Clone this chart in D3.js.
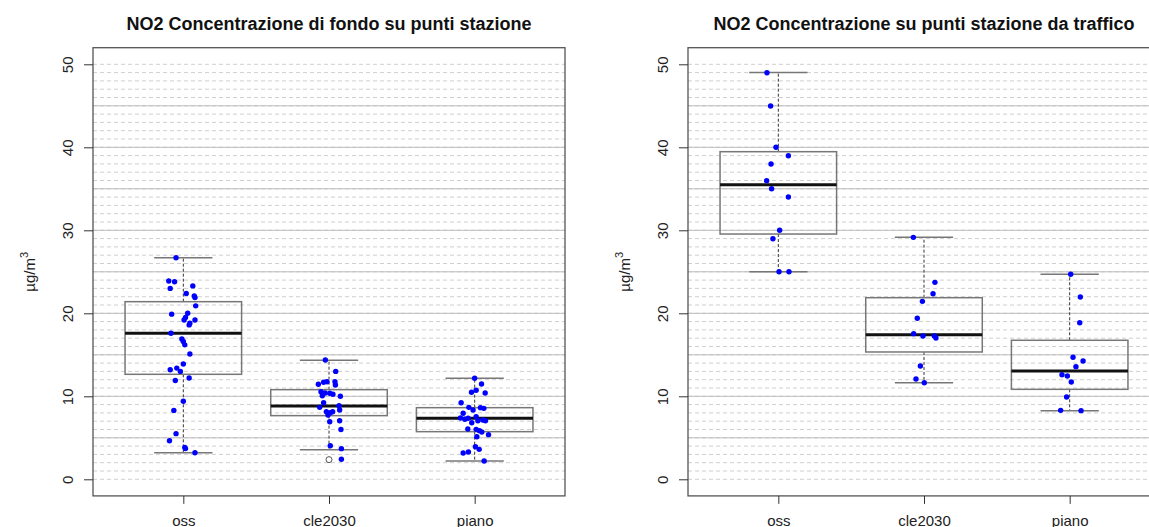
<!DOCTYPE html>
<html>
<head>
<meta charset="utf-8">
<script src="https://cdn.jsdelivr.net/npm/d3@7"></script>
<style>
  body { margin: 0; background: #fff; }
  svg { font-family: "Liberation Sans", Arial, sans-serif; }
</style>
</head>
<body>
<script>
// categories and tick labels
var categories = ['oss', 'cle2030', 'piano'];
var yTicks = [0, 10, 20, 30, 40, 50];
var titles = ['NO2 Concentrazione di fondo su punti stazione',
              'NO2 Concentrazione su punti stazione da traffico'];

// fondo (background stations): values and horizontal jitter (category units)
var fondoOss = [26.7, 23.9, 23.8, 23.3, 23.0, 22.4, 22.1, 21.9, 20.9, 19.9, 20.0, 19.5, 19.2, 19.2, 18.8, 18.6, 17.6,
  16.9, 16.6, 16.2, 15.1, 13.9, 13.2, 13.4, 13.0, 12.2, 11.9, 9.4, 8.3, 5.5, 4.65, 3.85, 3.7, 3.2];
var fondoOssJit = [-0.05, -0.10, -0.06, 0.065, -0.09, 0.02, 0.075, 0.08, 0.085, -0.08, 0.03, 0.015, 0.005, 0.08, 0.045, 0.04, -0.085,
  -0.01, 0, 0.01, 0.045, 0, -0.09, -0.045, -0.02, 0.04, -0.055, 0, -0.065, -0.05, -0.095, 0.01, 0.015, 0.08];
var fondoCle = [14.37, 13.0, 11.76, 11.7, 11.45, 11.76, 11.36, 10.56, 10.4, 10.36, 10.24, 10.0, 10.07, 9.23, 8.67, 8.87,
  8.35, 8.15, 8.03, 8.15, 7.75, 6.94, 7.06, 6.0, 4.05, 3.69, 2.41];
var fondoCleJit = [-0.025, 0.046, -0.014, -0.037, -0.073, 0.041, 0.044, -0.055, -0.027, 0.005, 0.027, 0.078, -0.046, -0.037, -0.064, 0.069,
  0.073, -0.018, 0.009, 0.025, -0.007, 0.005, 0.073, 0.082, 0.009, 0.085, 0.085];
var fondoPiano = [12.17, 11.48, 10.72, 10.48, 10.4, 9.23, 7.95, 8.67, 8.35, 8.63, 8.55, 7.35, 7.39, 7.23, 7.55, 7.06, 7.15,
  7.06, 6.82, 6.06, 6.02, 5.86, 5.7, 5.38, 5.13, 3.93, 3.61, 3.17, 3.29, 2.2];
var fondoPianoJit = [0, 0.047, 0.01, -0.022, 0.072, -0.093, -0.079, -0.04, -0.011, 0.04, 0.063, -0.045, -0.098, -0.068, 0.01, 0.022, 0.056,
  0.074, -0.02, -0.047, 0.01, 0.033, 0.049, 0.095, 0.015, 0.005, 0.031, -0.079, -0.043, 0.065];
// box stats: [lower whisker, Q1, median, Q3, upper whisker]
var fondoStats = [[3.2, 12.65, 17.6, 21.4, 26.7], [3.57, 7.67, 8.83, 10.8, 14.33], [2.2, 5.74, 7.35, 8.63, 12.17]];
var fondoOutliers = [[], [2.37], []];

// traffico (traffic stations)
var trafOss = [48.99, 44.98, 40.0, 38.99, 37.99, 35.98, 35.01, 34.01, 30.0, 28.99, 25.01, 25.01];
var trafOssJit = [-0.078, -0.053, -0.016, 0.069, -0.05, -0.08, -0.046, 0.069, 0.009, -0.037, 0.005, 0.073];
var trafCle = [29.15, 23.73, 22.36, 21.44, 19.4, 17.55, 17.27, 17.27, 17.02, 13.65, 12.08, 11.64];
var trafCleJit = [-0.073, 0.075, 0.062, -0.011, -0.046, -0.071, -0.007, 0.071, 0.082, -0.025, -0.055, 0.002];
var trafPiano = [24.7, 21.96, 18.87, 14.7, 14.25, 13.57, 12.6, 12.45, 11.72, 9.92, 8.31, 8.27];
var trafPianoJit = [0.007, 0.073, 0.069, 0.023, 0.092, 0.043, -0.053, -0.016, 0.011, -0.021, -0.062, 0.078];
var trafStats = [[25.0, 29.55, 35.5, 39.47, 49.0], [11.64, 15.34, 17.43, 21.88, 29.15], [8.27, 10.84, 13.05, 16.75, 24.7]];
var trafOutliers = [[], [], []];

var W = 1149, H = 527;
var svg = d3.select('body').append('svg').attr('width', W).attr('height', H);

var panels = [
  { left: 93, title: titles[0], values: [fondoOss, fondoCle, fondoPiano],
    jit: [fondoOssJit, fondoCleJit, fondoPianoJit], stats: fondoStats, out: fondoOutliers },
  { left: 688, title: titles[1], values: [trafOss, trafCle, trafPiano],
    jit: [trafOssJit, trafCleJit, trafPianoJit], stats: trafStats, out: trafOutliers }
];

var pw = 472, plotTop = 47.7, plotBottom = 495.9;
var y = d3.scaleLinear().domain([-2, 52]).range([plotBottom, plotTop]);

panels.forEach(function(p) {
  var x = d3.scaleLinear().domain([0.38, 3.62]).range([p.left, p.left + pw]);
  var g = svg.append('g');

  // grid: dashed every 1, solid every 5
  g.selectAll('line.minor').data(d3.range(0, 51)).enter().append('line')
      .attr('x1', p.left).attr('x2', p.left + pw)
      .attr('y1', function(d) { return y(d); }).attr('y2', function(d) { return y(d); })
      .attr('stroke', '#cfcfcf').attr('stroke-dasharray', '4,3');
  g.selectAll('line.major').data(d3.range(5, 50, 5)).enter().append('line')
      .attr('x1', p.left).attr('x2', p.left + pw)
      .attr('y1', function(d) { return y(d); }).attr('y2', function(d) { return y(d); })
      .attr('stroke', '#bdbdbd');

  // boxes
  var bw = 0.8;
  p.stats.forEach(function(s, i) {
    var c = i + 1;
    // whiskers
    g.append('line').attr('x1', x(c)).attr('x2', x(c)).attr('y1', y(s[3])).attr('y2', y(s[4]))
        .attr('stroke', '#333').attr('stroke-dasharray', '3,2');
    g.append('line').attr('x1', x(c)).attr('x2', x(c)).attr('y1', y(s[1])).attr('y2', y(s[0]))
        .attr('stroke', '#333').attr('stroke-dasharray', '3,2');
    // caps
    [s[0], s[4]].forEach(function(v) {
      g.append('line').attr('x1', x(c - bw / 4)).attr('x2', x(c + bw / 4))
          .attr('y1', y(v)).attr('y2', y(v)).attr('stroke', '#777').attr('stroke-width', 1.5);
    });
    g.append('rect').attr('x', x(c - bw / 2)).attr('width', x(c + bw / 2) - x(c - bw / 2))
        .attr('y', y(s[3])).attr('height', y(s[1]) - y(s[3]))
        .attr('fill', 'none').attr('stroke', '#777').attr('stroke-width', 1.5);
    g.append('line').attr('x1', x(c - bw / 2)).attr('x2', x(c + bw / 2))
        .attr('y1', y(s[2])).attr('y2', y(s[2])).attr('stroke', '#111').attr('stroke-width', 3);
    p.out[i].forEach(function(v) {
      g.append('circle').attr('cx', x(c)).attr('cy', y(v)).attr('r', 3)
          .attr('fill', 'none').attr('stroke', '#555');
    });
  });

  // jittered points
  p.values.forEach(function(vals, i) {
    g.selectAll(null).data(vals).enter().append('circle')
        .attr('cx', function(d, j) { return x(i + 1 + p.jit[i][j]); })
        .attr('cy', function(d) { return y(d); })
        .attr('r', 2.7).attr('fill', '#0000ff');
  });

  // frame
  g.append('rect').attr('x', p.left).attr('y', plotTop).attr('width', pw).attr('height', plotBottom - plotTop)
      .attr('fill', 'none').attr('stroke', '#555').attr('stroke-width', 1.3);

  // axes
  var yAxis = d3.axisLeft(y).tickValues(yTicks).tickSize(9).tickSizeOuter(0);
  var ya = g.append('g').attr('transform', 'translate(' + p.left + ',0)').call(yAxis);
  ya.select('.domain').remove();
  ya.selectAll('line').attr('stroke', '#333');
  ya.selectAll('text')
      .attr('transform', 'rotate(-90)')
      .attr('x', 0).attr('y', -20).attr('dy', 0)
      .attr('text-anchor', 'middle')
      .attr('font-size', 15).attr('fill', '#222')
      .attr('font-family', '"Liberation Sans", Arial, sans-serif');

  var xAxis = d3.axisBottom(x).tickValues([1, 2, 3])
      .tickFormat(function(d) { return categories[d - 1]; }).tickSize(8).tickSizeOuter(0);
  var xa = g.append('g').attr('transform', 'translate(0,' + plotBottom + ')').call(xAxis);
  xa.select('.domain').remove();
  xa.selectAll('line').attr('stroke', '#333');
  xa.selectAll('text').attr('y', 30).attr('dy', 0)
      .attr('font-size', 15).attr('fill', '#222')
      .attr('font-family', '"Liberation Sans", Arial, sans-serif');

  // y label
  var lab = g.append('text')
      .attr('transform', 'translate(' + (p.left - 58) + ',' + ((plotTop + plotBottom) / 2) + ') rotate(-90)')
      .attr('text-anchor', 'middle').attr('font-size', 15).attr('fill', '#222');
  lab.append('tspan').text('µg/m');
  lab.append('tspan').attr('font-size', 11).attr('dy', -7).text('3');

  // title
  g.append('text').attr('x', p.left + pw / 2).attr('y', 30)
      .attr('text-anchor', 'middle').attr('font-size', 18).attr('font-weight', 'bold')
      .attr('fill', '#111').text(p.title);
});
</script>
</body>
</html>
